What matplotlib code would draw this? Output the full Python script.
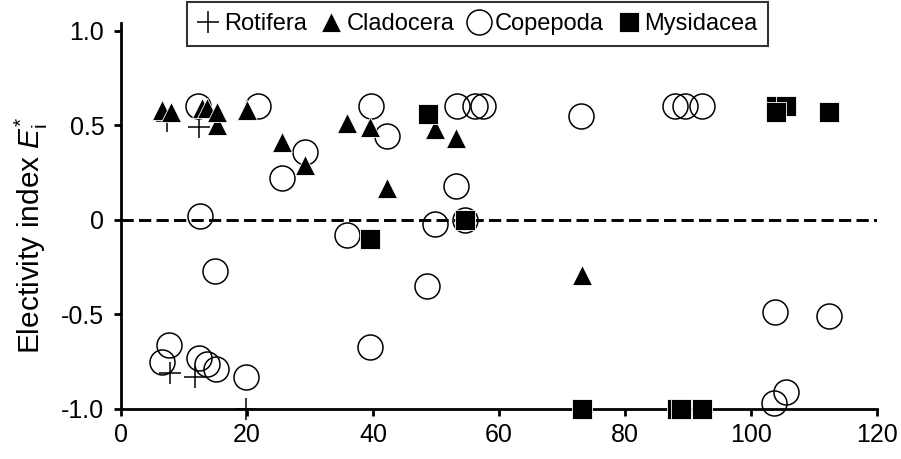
import matplotlib
matplotlib.use("Agg")
import matplotlib.pyplot as plt

plt.rcParams['font.family'] = ['Liberation Sans', 'DejaVu Sans']
plt.rcParams['axes.unicode_minus'] = False
plt.rcParams['mathtext.fontset'] = 'custom'
plt.rcParams['mathtext.rm'] = 'Liberation Sans'
plt.rcParams['mathtext.it'] = 'Liberation Sans:italic'

# Electivity index E_i* of each prey group against body length
rotifera_x = [7.8, 11.7, 19.8, 12.4, 7.3]
rotifera_y = [-0.81, -0.83, -1.0, 0.49, 0.52]

copepoda_x = [6.5, 7.6, 12.4, 13.7, 15.1, 19.8,
              12.3, 21.7, 12.5, 14.9,
              25.5, 29.2, 39.7, 42.2, 35.9, 39.5,
              49.8, 54.6, 48.6, 53.2, 53.3, 56.2, 57.5,
              73.0, 87.9, 89.5, 92.2, 103.8, 112.4, 105.6, 103.7]
copepoda_y = [-0.75, -0.66, -0.73, -0.76, -0.79, -0.83,
              0.60, 0.60, 0.02, -0.27,
              0.22, 0.36, 0.60, 0.44, -0.08, -0.67,
              -0.02, 0.0, -0.35, 0.18, 0.60, 0.60, 0.60,
              0.55, 0.60, 0.60, 0.60, -0.49, -0.51, -0.91, -0.97]

cladocera_x = [6.5, 7.9, 12.8, 13.6, 15.2, 15.2,
               20.0, 25.5, 29.2, 35.9, 39.5, 42.2, 49.8, 53.2, 73.2]
cladocera_y = [0.58, 0.57, 0.59, 0.59, 0.50, 0.57,
               0.58, 0.41, 0.29, 0.51, 0.49, 0.17, 0.48, 0.43, -0.29]

mysidacea_x = [48.7, 39.5, 54.6, 73.2, 88.3, 88.9, 92.2, 103.9, 105.6, 103.9, 112.4]
mysidacea_y = [0.56, -0.10, 0.0, -1.0, -1.0, -1.0, -1.0, 0.60, 0.60, 0.57, 0.57]

x_ticks = [0, 20, 40, 60, 80, 100, 120]
y_ticks = [-1.0, -0.5, 0.0, 0.5, 1.0]
y_tick_labels = ['-1.0', '-0.5', '0', '0.5', '1.0']

fig = plt.figure(figsize=(9.01, 4.59), dpi=100)
ax = fig.add_axes([0.1343, 0.109, 0.839, 0.841])

ax.axhline(0, color='black', lw=2.1, ls=(0, (4.2, 1.8)), zorder=1)

h_rot, = ax.plot(rotifera_x, rotifera_y, ls='none', marker='+', ms=16,
                 mew=1.1, color='black', clip_on=False, zorder=2)
h_cop, = ax.plot(copepoda_x, copepoda_y, ls='none', marker='o', ms=18,
                 mew=1.1, mfc='none', mec='black', clip_on=False, zorder=3)
h_cla, = ax.plot(cladocera_x, cladocera_y, ls='none', marker='^', ms=15,
                 mew=0.6, mfc='black', mec='white', clip_on=False, zorder=4)
h_mys, = ax.plot(mysidacea_x, mysidacea_y, ls='none', marker='s', ms=14,
                 mew=0.6, mfc='black', mec='white', clip_on=False, zorder=5)

ax.set_xlim(0, 120)
ax.set_ylim(-1.0, 1.04)
ax.set_xticks(x_ticks)
ax.set_xticklabels([str(t) for t in x_ticks])
ax.set_yticks(y_ticks)
ax.set_yticklabels(y_tick_labels)

for side in ('top', 'right'):
    ax.spines[side].set_visible(False)
for side in ('left', 'bottom'):
    ax.spines[side].set_linewidth(2.0)
ax.tick_params(axis='both', direction='out', length=5, width=2.0,
               labelsize=18, colors='black')
ax.tick_params(axis='y', pad=7)
ax.tick_params(axis='x', pad=5)

ax.set_ylabel(r'Electivity index $E_\mathrm{i}^{*}$', fontsize=21.5)
ax.yaxis.set_label_coords(-0.094, 0.45)

leg = fig.legend([h_rot, h_cla, h_cop, h_mys],
                 ['Rotifera', 'Cladocera', 'Copepoda', 'Mysidacea'],
                 loc='upper center', bbox_to_anchor=(0.53, 0.995), ncol=4,
                 fontsize=17, frameon=True, fancybox=False, edgecolor='black',
                 handlelength=0.9, handletextpad=0.2, columnspacing=0.6,
                 borderpad=0.45, borderaxespad=0, markerscale=1.0)
leg.get_frame().set_linewidth(1.5)
leg.set_zorder(10)

fig.savefig('out.png', dpi=100, facecolor='white')
